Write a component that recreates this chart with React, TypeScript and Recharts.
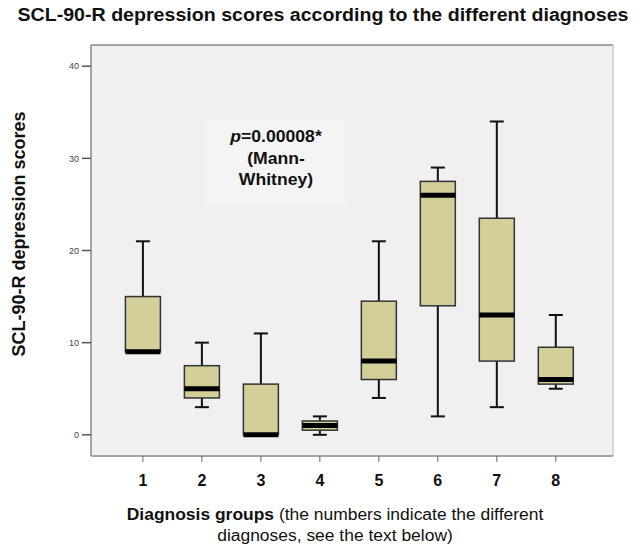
import {
  ComposedChart,
  Bar,
  XAxis,
  YAxis,
  CartesianGrid,
  ReferenceArea,
  ReferenceLine,
} from "recharts";

const groups = [1, 2, 3, 4, 5, 6, 7, 8];
const mins = [9, 3, 0, 0, 4, 2, 3, 5];
const q1s = [9, 4, 0, 0.5, 6, 14, 8, 5.5];
const medians = [9, 5, 0, 1, 8, 26, 13, 6];
const q3s = [15, 7.5, 5.5, 1.5, 14.5, 27.5, 23.5, 9.5];
const maxs = [21, 10, 11, 2, 21, 29, 34, 13];
const yTicks = [0, 10, 20, 30, 40];

const data = groups.map((g, i) => ({
  group: g,
  range: [mins[i], maxs[i]],
  min: mins[i],
  q1: q1s[i],
  median: medians[i],
  q3: q3s[i],
  max: maxs[i],
}));

const font = "'Liberation Sans', Arial, sans-serif";
const boxFill = "#d4ce98";

const BoxShape = (props: any) => {
  const { x, y, width, height, payload } = props;
  const top = Math.min(y, y + height);
  const bottom = Math.max(y, y + height);
  const span = payload.max - payload.min;
  const py = (v: number) =>
    span === 0 ? top : top + ((bottom - top) * (payload.max - v)) / span;
  const cx = x + width / 2;
  const cap = 14;
  return (
    <g>
      <line x1={cx} x2={cx} y1={py(payload.max)} y2={py(payload.q3)} stroke="#111" strokeWidth={2} />
      <line x1={cx} x2={cx} y1={py(payload.q1)} y2={py(payload.min)} stroke="#111" strokeWidth={2} />
      <line x1={cx - cap / 2} x2={cx + cap / 2} y1={py(payload.max)} y2={py(payload.max)} stroke="#111" strokeWidth={2} />
      <line x1={cx - cap / 2} x2={cx + cap / 2} y1={py(payload.min)} y2={py(payload.min)} stroke="#111" strokeWidth={2} />
      <rect
        x={x}
        y={py(payload.q3)}
        width={width}
        height={Math.max(py(payload.q1) - py(payload.q3), 1)}
        fill={boxFill}
        stroke="#333"
        strokeWidth={1.5}
      />
      <line x1={x} x2={x + width} y1={py(payload.median)} y2={py(payload.median)} stroke="#000" strokeWidth={5} />
    </g>
  );
};

export default function App() {
  return (
    <div
      style={{
        position: "absolute",
        left: 0,
        top: 0,
        width: 641,
        height: 546,
        background: "#fff",
        fontFamily: font,
      }}
    >
      <div
        style={{
          position: "absolute",
          left: 0,
          top: 5,
          width: 646,
          textAlign: "center",
          fontSize: 17.5,
          fontWeight: "bold",
          color: "#111",
          transform: "scaleX(1.12)",
          whiteSpace: "nowrap",
        }}
      >
        SCL-90-R depression scores according to the different diagnoses
      </div>
      <div
        style={{
          position: "absolute",
          left: 19,
          top: 234,
          transform: "translate(-50%, -50%) rotate(-90deg)",
          whiteSpace: "nowrap",
          fontSize: 18,
          fontWeight: "bold",
          color: "#111",
        }}
      >
        SCL-90-R depression scores
      </div>
      <ComposedChart
        width={641}
        height={546}
        data={data}
        margin={{ top: 45, right: 28, bottom: 0, left: 0 }}
      >
        <CartesianGrid horizontal={false} vertical={false} fill="#f0f0f0" />
        <ReferenceArea x1={2.08} x2={4.44} y1={24.9} y2={34.2} fill="#f4f4f4" fillOpacity={1} stroke="none" />
        <XAxis
          type="number"
          dataKey="group"
          domain={[0.12, 8.97]}
          allowDataOverflow
          ticks={groups}
          axisLine={{ stroke: "#888", strokeWidth: 1.5 }}
          tickLine={{ stroke: "#666" }}
          tickSize={6}
          tickMargin={13}
          tick={{ fill: "#111", fontSize: 16, fontWeight: "bold", fontFamily: font }}
          height={90}
        />
        <YAxis
          type="number"
          domain={[-2.3, 42.3]}
          ticks={yTicks}
          allowDataOverflow
          width={91}
          axisLine={{ stroke: "#888", strokeWidth: 1.5 }}
          tickLine={{ stroke: "#555", strokeWidth: 1.5 }}
          tickSize={9}
          tickMargin={3}
          tick={{ fill: "#444", fontSize: 9, fontFamily: font }}
        />
        <ReferenceLine y={42.3} stroke="#888" strokeWidth={1.5} />
        <ReferenceLine x={8.97} stroke="#ccc" strokeWidth={1.5} />
        <Bar dataKey="range" barSize={35} shape={BoxShape} isAnimationActive={false} />
      </ComposedChart>
      <div
        style={{
          position: "absolute",
          left: 216,
          top: 126,
          width: 120,
          textAlign: "center",
          fontSize: 16,
          fontWeight: "bold",
          lineHeight: "21.5px",
          color: "#111",
          transform: "scaleX(1.1)",
          whiteSpace: "nowrap",
        }}
      >
        <i>p</i>=0.00008*
        <br />
        (Mann-
        <br />
        Whitney)
      </div>
      <div
        style={{
          position: "absolute",
          left: 85,
          top: 504,
          width: 500,
          textAlign: "center",
          fontSize: 16,
          lineHeight: "21px",
          color: "#111",
          transform: "scaleX(1.09)",
          whiteSpace: "nowrap",
        }}
      >
        <b>Diagnosis groups</b> (the numbers indicate the different
        <br />
        diagnoses, see the text below)
      </div>
    </div>
  );
}
